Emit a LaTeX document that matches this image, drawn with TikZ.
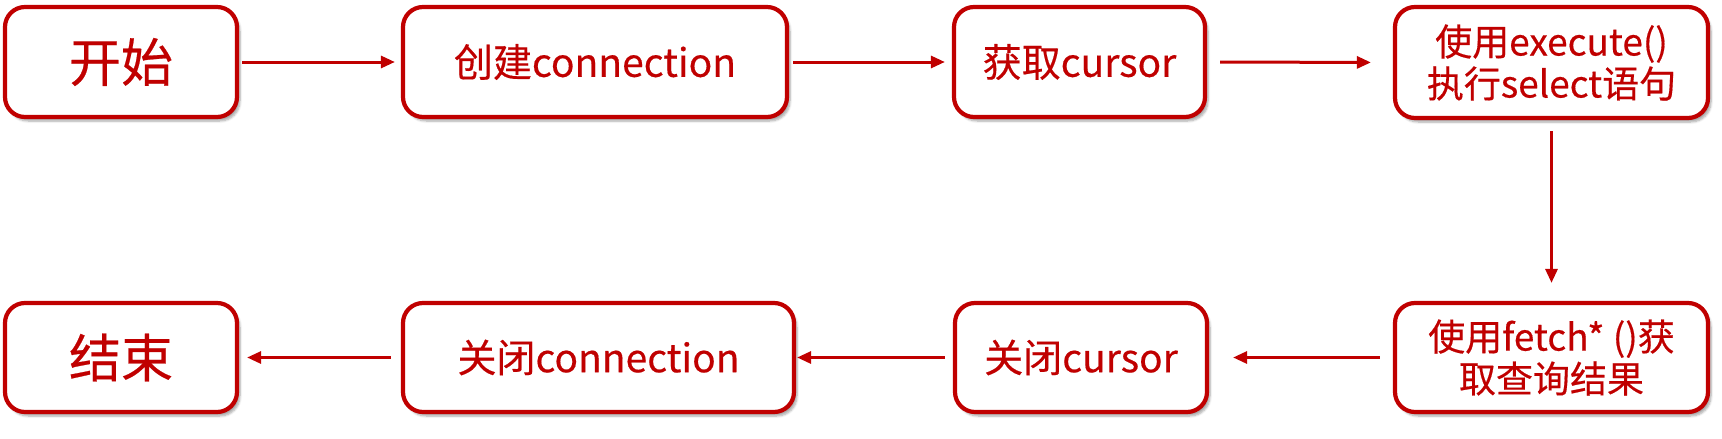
\documentclass[tikz,border=0pt]{standalone}
\usepackage{fontspec}
\setmainfont{Noto Sans CJK SC}[FakeBold=0.4,AutoFakeBold=0.4]
\usetikzlibrary{arrows.meta,shadows.blur}
\definecolor{rd}{HTML}{C00000}
\tikzset{
  box/.style={draw=rd, line width=4.2pt, rounded corners=20pt, fill=white,
    text=rd, inner sep=0pt, align=center,
    blur shadow={shadow xshift=3pt, shadow yshift=-4pt, shadow blur steps=6, shadow opacity=35}},
  txt/.style={font=\fontsize{39}{42}\selectfont\bfseries},
  big/.style={font=\fontsize{52}{56}\selectfont\bfseries},
  two/.style={font=\fontsize{37}{42}\selectfont\bfseries},
  arr/.style={draw=rd, line width=3pt, -{Triangle[length=14pt,width=12pt]}}
}
\begin{document}
\begin{tikzpicture}[x=1pt,y=-1pt]
\useasboundingbox (0,0) rectangle (1722,439);
% top row
\node[box,big, minimum width=232pt, minimum height=110pt] (b1) at (121,62) {开始};
\node[box,txt, minimum width=384pt, minimum height=110pt] (b2) at (595,62) {创建connection};
\node[box,txt, minimum width=251pt, minimum height=110pt] (b3) at (1079.5,62) {获取cursor};
\node[box,two, minimum width=313pt, minimum height=111pt] (b4) at (1551.5,62.5) {使用execute()\\执行select语句};
% bottom row
\node[box,big, minimum width=232pt, minimum height=109pt] (c1) at (121,357.5) {结束};
\node[box,txt, minimum width=391pt, minimum height=109pt] (c2) at (598.5,357.5) {关闭connection};
\node[box,txt, minimum width=252pt, minimum height=109pt] (c3) at (1081,357.5) {关闭cursor};
\node[box,two, minimum width=313pt, minimum height=109pt] (c4) at (1551.5,357.5) {使用fetch* ()获\\取查询结果};
% arrows
\draw[arr, shorten <=3pt, shorten >=6pt] (b1.east) -- (b2.west);
\draw[arr, shorten <=4pt, shorten >=7pt] (b2.east) -- (b3.west);
\draw[arr, shorten <=13pt, shorten >=22pt] (b3.east) -- (b4.west);
\draw[arr, shorten <=11pt, shorten >=18pt] (b4.south) -- (c4.north);
\draw[arr, shorten <=13pt, shorten >=24pt] (c4.west) -- (c3.east);
\draw[arr, shorten <=8pt, shorten >=1pt] (c3.west) -- (c2.east);
\draw[arr, shorten <=10pt, shorten >=8pt] (c2.west) -- (c1.east);
\end{tikzpicture}
\end{document}
